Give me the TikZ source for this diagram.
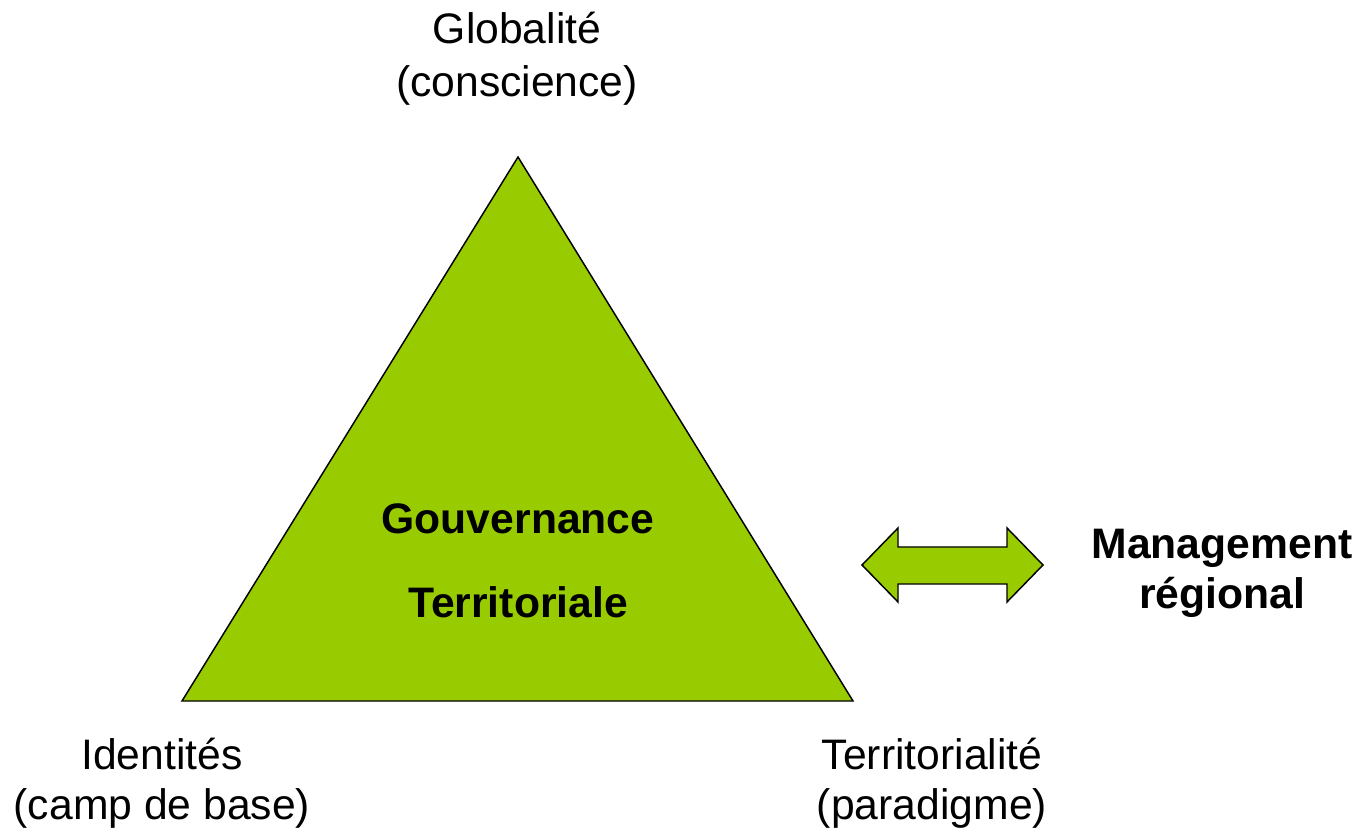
\documentclass[tikz,border=0pt]{standalone}
\usepackage{fontspec}
\setmainfont{Liberation Sans}
\definecolor{tgreen}{HTML}{99CC00}
\begin{document}
\begin{tikzpicture}[x=0.75pt,y=-0.75pt,
  lbl/.style={anchor=base,inner sep=0pt,font=\fontsize{32}{38}\selectfont},
  blbl/.style={lbl,font=\fontsize{32}{38}\selectfont\bfseries},
  greenshape/.style={fill=tgreen,draw=black,line width=1.1pt,line join=miter}]
\useasboundingbox (0,0) rectangle (1361,830);
% triangle
\coordinate (A) at (518,157);
\coordinate (B) at (182,701);
\coordinate (C) at (853,701);
\draw[greenshape] (A) -- (B) -- (C) -- cycle;
% double arrow
\draw[greenshape] (862,565) -- (898,528) -- (898,547) -- (1007,547) -- (1007,528)
  -- (1043,565) -- (1007,602) -- (1007,584) -- (898,584) -- (898,602) -- cycle;
% labels
\node[lbl] (g1) at (517,44) {Globalité};
\node[lbl] (g2) at (517,97) {(conscience)};
\node[lbl] (i1) at (162,769) {Identités};
\node[lbl] (i2) at (162,819) {(camp de base)};
\node[lbl] (t1) at (932,769) {Territorialité};
\node[lbl] (t2) at (932,819) {(paradigme)};
\node[blbl] (c1) at (518,534) {Gouvernance};
\node[blbl] (c2) at (518,617) {Territoriale};
\node[blbl] (m1) at (1222,558) {Management};
\node[blbl] (m2) at (1222,609) {régional};
\end{tikzpicture}
\end{document}
